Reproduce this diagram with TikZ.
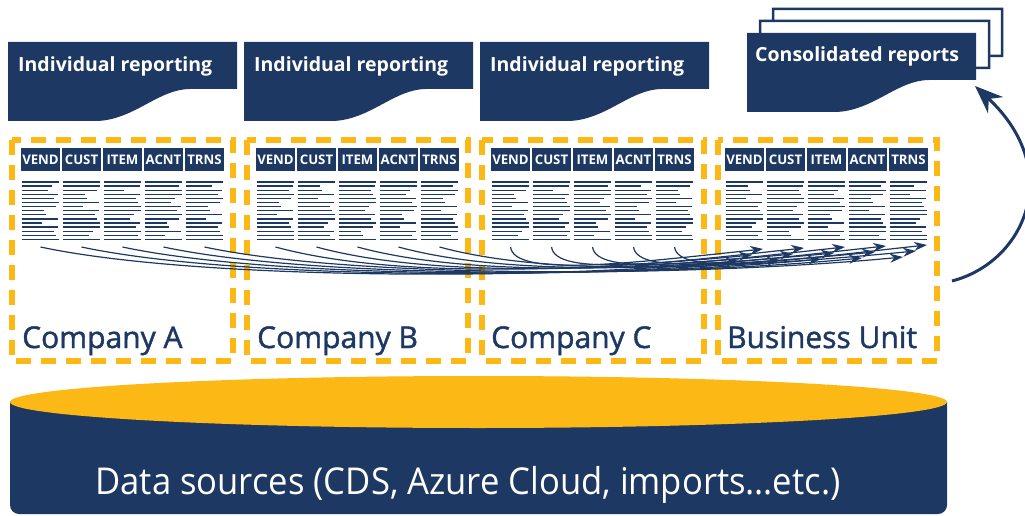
\documentclass[tikz,border=0pt]{standalone}
\usepackage{fontspec}
\setmainfont{Open Sans}
\newfontfamily\semibf{Open Sans}[FakeBold=1.4]
\usepackage{graphicx}
\usetikzlibrary{arrows.meta}
\definecolor{navy}{HTML}{1D3863}
\definecolor{gold}{HTML}{FCB814}
\tikzset{
  docfill/.style={fill=navy},
  docback/.style={fill=white,draw=navy,line width=2.5pt},
  banner/.style={anchor=base west,text=white,inner sep=0pt,font=\bfseries\fontsize{19.5}{21}\selectfont},
  hdr/.style={fill=navy,minimum width=39pt,minimum height=23pt,inner sep=0pt,text=white,font=\bfseries\fontsize{13.2}{14}\selectfont},
  rowline/.style={navy,line width=1.25pt},
  zone/.style={draw=gold,line width=6pt,dash pattern=on 15pt off 10pt},
  comp/.style={anchor=base west,text=navy,inner sep=0pt,font=\semibf\fontsize{30}{32}\selectfont},
  flow/.style={navy,line width=1.2pt,-{Stealth[length=13pt,width=9pt]}},
  bigflow/.style={navy,line width=3pt,-{Stealth[length=28pt,width=22pt]}}
}
\newcommand\docpath{(0,0) -- (229,0) -- (229,47) -- (182,47) .. controls (150,47) and (125,79) .. (87,79) -- (0,79) -- cycle}
\begin{document}
\begin{tikzpicture}[x=1pt,y=-1pt]
\useasboundingbox (0,0) rectangle (1025,516);
\fill[white] (0,0) rectangle (1025,516);

% individual reporting banners
\foreach \bx/\nm in {8/ira,244/irb,480/irc} {
  \begin{scope}[shift={(\bx,42)}]
    \fill[docfill] \docpath;
    \node[banner] (\nm) at (10,30) {Individual reporting};
  \end{scope}
}
% consolidated reports stack
\begin{scope}[shift={(773,9)}] \filldraw[docback] \docpath; \end{scope}
\begin{scope}[shift={(760,21)}] \filldraw[docback] \docpath; \end{scope}
\begin{scope}[shift={(747,33)}]
  \fill[docfill] \docpath;
  \node[banner] (cons) at (8,29) {Consolidated reports};
  \coordinate (constip) at (228,53);
\end{scope}

% dashed company zones
\draw[zone] (12,140) rectangle (233,361);
\draw[zone] (247,140) rectangle (468,361);
\draw[zone] (482,140) rectangle (704,361);
\draw[zone] (718,140) rectangle (937,361);

% tables
\foreach \k/\ox in {0/21,1/256,2/491,3/725} {
  \foreach \lab [count=\i from 0] in {VEND,CUST,ITEM,ACNT,TRNS} {
    \node[hdr] (h\k\i) at ({\ox+19.5+41*\i},159.5) {\lab};
    \foreach \r in {0,...,14} {
      \pgfmathsetmacro\L{{37,30,26,36,32,37,34,22,24,36,20,36,32,34,37,28}[ifthenelse(\r==0 || \r==14,0,mod(\r+4*\i+2*\k,15))]}
      \draw[rowline] ({\ox+1+41*\i},{182+4.1*\r}) -- ++(\L,0);
    }
  }
}

% arrows from companies to business unit
\foreach \i in {0,...,4} {
  \coordinate (sa\i) at ({21+19.5+41*\i},247);
  \coordinate (sb\i) at ({256+19.5+41*\i},247);
  \coordinate (sc\i) at ({491+19.5+41*\i},247);
  \coordinate (ta\i) at ({725+14+41*\i},{261-1*\i});
  \coordinate (tb\i) at ({725+27+41*\i},{255-1*\i});
  \coordinate (tc\i) at ({725+38+41*\i},{249-1*\i});
  \draw[flow] (sa\i) .. controls +(150,32) and +(-210,20) .. (ta\i);
  \draw[flow] (sb\i) .. controls +(110,30) and +(-190,18) .. (tb\i);
  \draw[flow] (sc\i) .. controls +(4,30) and +(-140,15) .. (tc\i);
}

% company labels
\node[comp] (ca) at (22,348) {Company A};
\node[comp] (cb) at (257,348) {Company B};
\node[comp] (cc) at (491,348) {Company C};
\node[comp] (bu) at (727,348) {Business Unit};

% consolidation arrow
\coordinate (buout) at (952,281);
\draw[bigflow] (buout) .. controls (1025,262) and (1065,170) .. (constip);

% data source cylinder
\fill[navy] (10,402) {[rounded corners=9pt] -- (10,514) -- (947,514)} -- (947,402) -- cycle;
\fill[gold] (478.5,402) ellipse [x radius=468.5pt, y radius=26pt];
\node[anchor=base,text=white,inner sep=0pt] (ds) at (468,494) {\scalebox{0.935}[1]{\fontsize{37}{40}\selectfont Data sources (CDS, Azure Cloud, imports…etc.)}};
\end{tikzpicture}
\end{document}
